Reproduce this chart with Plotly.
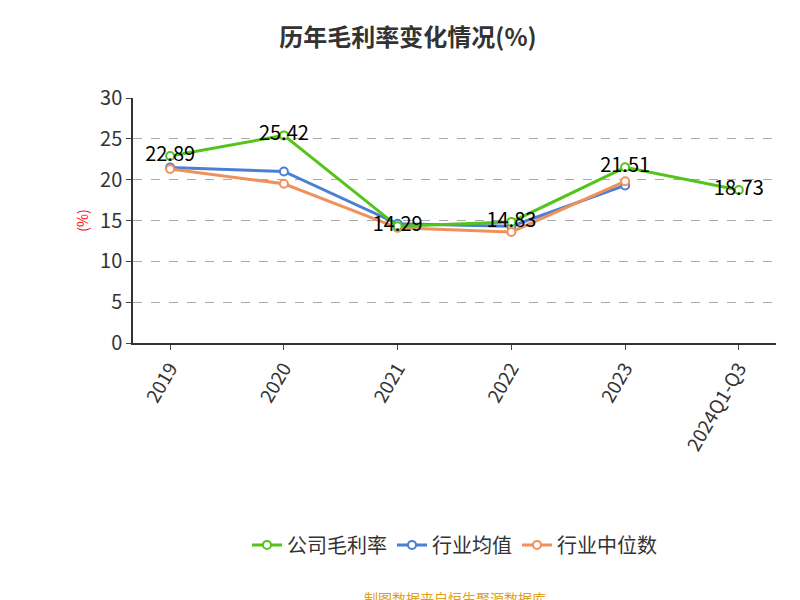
import plotly.graph_objects as go

years = ["2019", "2020", "2021", "2022", "2023", "2024Q1-Q3"]
company = [22.89, 25.42, 14.29, 14.83, 21.51, 18.73]
industry_avg = [21.5, 21.0, 14.6, 14.3, 19.3, None]
industry_median = [21.3, 19.5, 14.1, 13.6, 19.8, None]

fig = go.Figure()
fig.add_trace(go.Scatter(
    x=years, y=industry_avg, name="行业均值", mode="lines+markers", legendrank=2,
    line=dict(color="#4a7fd4", width=3),
    marker=dict(size=8, color="white", line=dict(color="#4a7fd4", width=2)),
))
fig.add_trace(go.Scatter(
    x=years, y=industry_median, name="行业中位数", mode="lines+markers", legendrank=3,
    line=dict(color="#f0905a", width=3),
    marker=dict(size=8, color="white", line=dict(color="#f0905a", width=2)),
))
fig.add_trace(go.Scatter(
    x=years, y=company, name="公司毛利率", mode="lines+markers+text", legendrank=1,
    text=[f"{v:.2f}" for v in company], textposition="middle center",
    textfont=dict(size=20, color="black"),
    line=dict(color="#52c41a", width=3),
    marker=dict(size=8, color="white", line=dict(color="#52c41a", width=2)),
))

fig.update_layout(
    width=800, height=600,
    paper_bgcolor="white", plot_bgcolor="white",
    font=dict(family="Noto Sans CJK SC", color="#333"),
    title=dict(text="<b>历年毛利率变化情况(%)</b>", x=0.5, y=0.965,
               font=dict(size=24, color="#333")),
    margin=dict(l=125, r=32, t=90, b=265),
    legend=dict(orientation="h", x=0.5, xanchor="center", y=-0.824, yanchor="middle",
                font=dict(size=20)),
    annotations=[
        dict(text="制图数据来自恒生聚源数据库", x=0.5, y=-1.04, xref="paper",
             yref="paper", yanchor="middle", showarrow=False,
             font=dict(size=14, color="#e0a020"), xanchor="center"),
    ],
)
fig.update_xaxes(showline=True, linecolor="#333", linewidth=1.5, ticks="outside",
                 tickangle=-60, tickfont=dict(size=19), showgrid=False)
fig.update_yaxes(range=[0, 30], dtick=5, showline=True, linecolor="#333",
                 linewidth=1.5, ticks="outside", tickfont=dict(size=20),
                 gridcolor="#aaa", griddash="dash", zeroline=False,
                 title=dict(text="(%)", font=dict(size=14, color="red"), standoff=8))
fig.write_html("out.html")
